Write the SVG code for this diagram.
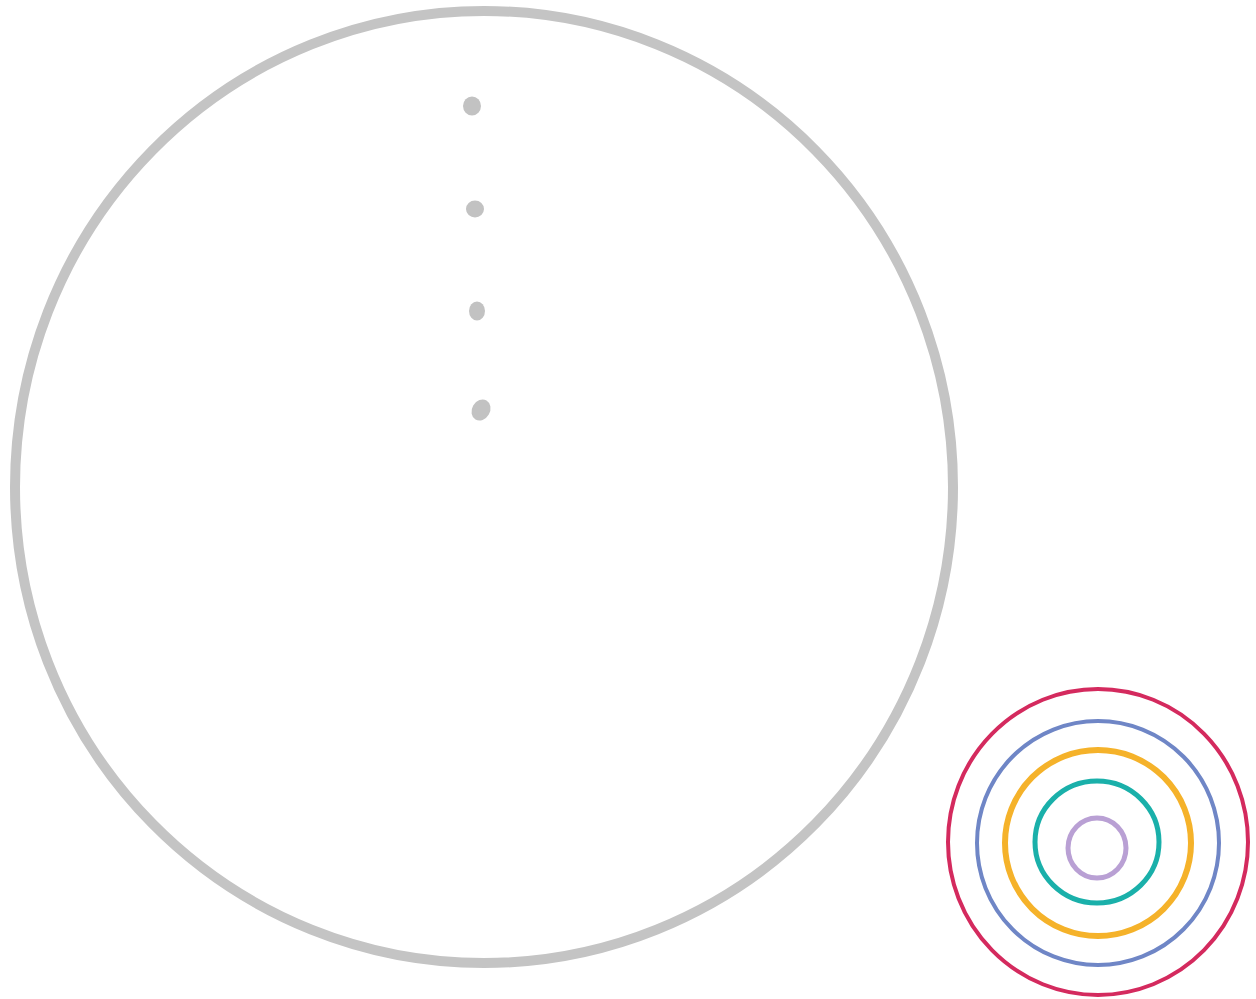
<svg xmlns="http://www.w3.org/2000/svg" width="1256" height="999" viewBox="0 0 1256 999">
<style>
.ring{fill:none;stroke-linecap:round}
.dot{fill:#c2c2c2}
</style>
<rect width="1256" height="999" fill="#ffffff"/>
<g id="big-circle">
<ellipse cx="484" cy="487" rx="469" ry="476" class="ring" stroke="#c4c4c4" stroke-width="10"/>
</g>
<g id="dots">
<ellipse class="dot" cx="472" cy="106" rx="9" ry="9.5"/>
<ellipse class="dot" cx="475" cy="209" rx="9" ry="8.5"/>
<ellipse class="dot" cx="477" cy="311" rx="8" ry="9.5"/>
<ellipse class="dot" cx="481" cy="410" rx="9" ry="11" transform="rotate(30 481 410)"/>
</g>
<g id="target">
<ellipse cx="1098" cy="842" rx="150" ry="153" class="ring" stroke="#d42a5e" stroke-width="4"/>
<ellipse cx="1098" cy="843" rx="121" ry="122" class="ring" stroke="#6f86c6" stroke-width="4"/>
<ellipse cx="1098" cy="843" rx="93" ry="93" class="ring" stroke="#f5b22a" stroke-width="6"/>
<ellipse cx="1097" cy="842" rx="62" ry="61" class="ring" stroke="#1ab0aa" stroke-width="5"/>
<ellipse cx="1097" cy="848" rx="29" ry="30" class="ring" stroke="#b9a0d4" stroke-width="5"/>
</g>
</svg>
